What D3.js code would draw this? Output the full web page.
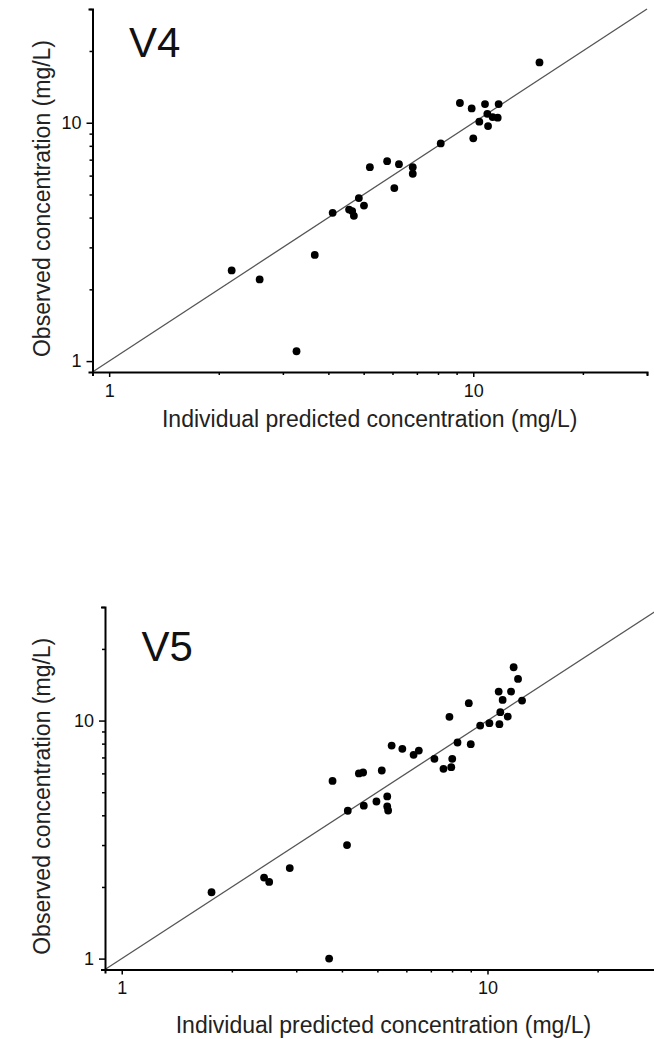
<!DOCTYPE html>
<html>
<head>
<meta charset="utf-8">
<script src="https://cdn.jsdelivr.net/npm/d3@7"></script>
<style>
  html, body { margin: 0; padding: 0; background: #fff; }
  svg { display: block; font-family: "Liberation Sans", Arial, sans-serif; }
</style>
</head>
<body>
<svg id="chart" width="654" height="1039"></svg>
<script>
// ---- Data ----
const panelLabels = ["V4", "V5"];

const v4Predicted = [15.2, 9.19, 9.9, 10.77, 11.74, 10.93, 11.3, 11.67, 10.39, 10.98, 10.0, 8.14,
  5.80, 6.25, 5.2, 6.82, 6.82, 6.07, 4.85, 5.01, 4.11, 4.56, 4.65, 4.70, 3.67, 2.17, 2.59, 3.27];
const v4Observed = [17.9, 12.1, 11.48, 11.97, 11.97, 10.9, 10.56, 10.5, 10.1, 9.68, 8.6, 8.19,
  6.9, 6.7, 6.51, 6.51, 6.11, 5.32, 4.83, 4.49, 4.19, 4.32, 4.26, 4.07, 2.79, 2.40, 2.20, 1.10];

const v5Predicted = [11.79, 12.12, 10.73, 11.6, 11.0, 12.43, 8.89, 7.87, 10.84, 11.36, 10.78, 9.55,
  10.12, 8.28, 9.0, 5.47, 5.85, 6.28, 6.49, 7.16, 8.01, 7.58, 7.96, 5.14, 4.45, 4.57, 3.77,
  5.32, 5.32, 5.35, 4.97, 4.59, 4.15, 4.13, 2.88, 2.45, 2.53, 1.76, 3.69];
const v5Observed = [16.75, 14.96, 13.24, 13.24, 12.21, 12.13, 11.83, 10.37, 10.85, 10.39, 9.66, 9.53,
  9.75, 8.09, 7.96, 7.85, 7.61, 7.18, 7.48, 6.91, 6.91, 6.27, 6.37, 6.17, 6.0, 6.05, 5.58,
  4.80, 4.36, 4.19, 4.57, 4.39, 4.18, 3.0, 2.40, 2.19, 2.10, 1.90, 1.0];

const axisDomain = [0.9, 30];
const tickValues = [1, 2, 3, 4, 5, 6, 7, 8, 9, 10, 20, 30];
const majorTicks = [1, 10];
const xTitle = "Individual predicted concentration (mg/L)";
const yTitle = "Observed concentration (mg/L)";

// ---- Layout ----
const panels = [
  { label: panelLabels[0], xs: v4Predicted, ys: v4Observed,
    xRange: [92.5, 647], yRange: [372, 9], labelPos: [129, 57], xTitleY: 427 },
  { label: panelLabels[1], xs: v5Predicted, ys: v5Observed,
    xRange: [105, 662], yRange: [969.5, 607], labelPos: [141.5, 660.5], xTitleY: 1033 }
];

const svg = d3.select("#chart");
const fmt = d => majorTicks.includes(d) ? String(d) : "";

panels.forEach(p => {
  const x = d3.scaleLog().domain(axisDomain).range(p.xRange);
  const y = d3.scaleLog().domain(axisDomain).range(p.yRange);
  const g = svg.append("g");

  // diagonal line of identity
  g.append("line")
    .attr("x1", x(axisDomain[0])).attr("y1", y(axisDomain[0]))
    .attr("x2", x(axisDomain[1])).attr("y2", y(axisDomain[1]))
    .attr("stroke", "#555").attr("stroke-width", 1.3);

  // points
  g.selectAll("circle").data(p.xs.map((v, i) => [v, p.ys[i]])).enter()
    .append("circle")
    .attr("cx", d => x(d[0])).attr("cy", d => y(d[1]))
    .attr("r", 3.9).attr("fill", "#000");

  // x axis
  const xa = g.append("g")
    .attr("transform", `translate(0,${p.yRange[0]})`)
    .call(d3.axisBottom(x).tickValues(tickValues).tickFormat(fmt)
      .tickSize(5).tickSizeOuter(4).tickPadding(7));
  xa.selectAll(".tick line").attr("y2", d => majorTicks.includes(d) ? 5 : 3);

  // y axis
  const ya = g.append("g")
    .attr("transform", `translate(${p.xRange[0]},0)`)
    .call(d3.axisLeft(y).tickValues(tickValues).tickFormat(fmt)
      .tickSize(6).tickSizeOuter(4).tickPadding(5));
  ya.selectAll(".tick line").attr("x2", d => majorTicks.includes(d) ? -6 : -3);

  [xa, ya].forEach(a => {
    a.select(".domain").attr("stroke", "#000").attr("stroke-width", 2);
    a.selectAll(".tick line").attr("stroke", "#000").attr("stroke-width", 1.5);
    a.selectAll(".tick text").attr("font-size", 18).attr("fill", "#111")
      .attr("font-family", "Liberation Sans, Arial, sans-serif");
  });

  // panel label
  g.append("text").attr("x", p.labelPos[0]).attr("y", p.labelPos[1])
    .attr("font-size", 42).attr("fill", "#111").text(p.label);

  // x title
  g.append("text")
    .attr("x", (p.xRange[0] + p.xRange[1]) / 2).attr("y", p.xTitleY)
    .attr("text-anchor", "middle").attr("font-size", 23).attr("fill", "#222")
    .text(xTitle);

  // y title
  const cy = (p.yRange[0] + p.yRange[1]) / 2 + 8;
  g.append("text")
    .attr("transform", `translate(50,${cy}) rotate(-90)`)
    .attr("text-anchor", "middle").attr("font-size", 23).attr("fill", "#222")
    .text(yTitle);
});
</script>
</body>
</html>
